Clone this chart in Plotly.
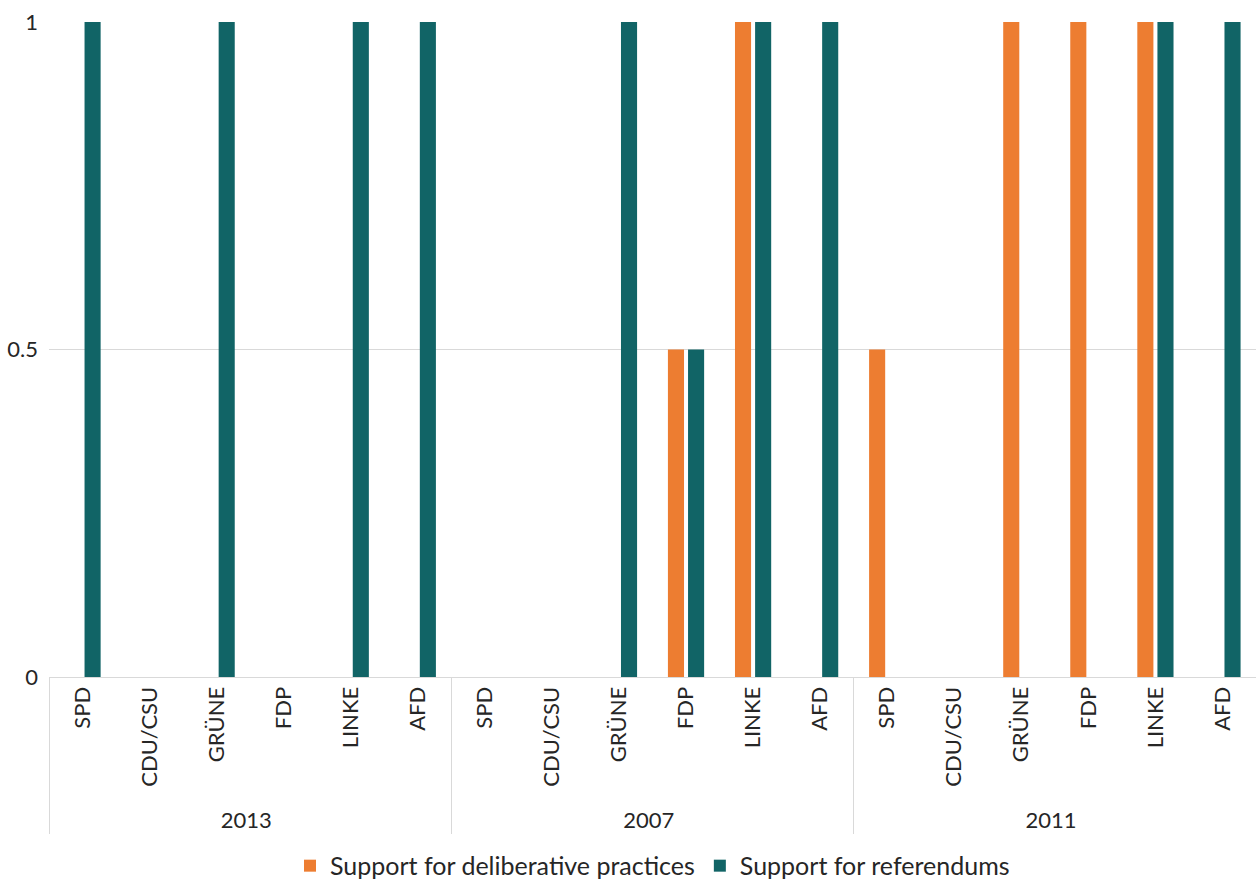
import plotly.graph_objects as go

years = ["2013"] * 6 + ["2007"] * 6 + ["2011"] * 6
parties = ["SPD", "CDU/CSU", "GRÜNE", "FDP", "LINKE", "AFD"] * 3
deliberative = [0, 0, 0, 0, 0, 0,
                0, 0, 0, 0.5, 1, 0,
                0.5, 0, 1, 1, 1, 0]
referendums = [1, 0, 1, 0, 1, 1,
               0, 0, 1, 0.5, 1, 1,
               0, 0, 0, 0, 1, 1]

ORANGE = "#ED7D31"
TEAL = "#116466"

fig = go.Figure()
fig.add_trace(go.Bar(x=[years, parties], y=deliberative, name="Support for deliberative practices",
                     marker=dict(color=ORANGE, line=dict(width=0))))
fig.add_trace(go.Bar(x=[years, parties], y=referendums, name="Support for referendums",
                     marker=dict(color=TEAL, line=dict(width=0))))

fig.update_layout(
    width=1256, height=880,
    margin=dict(l=49, r=0, t=22, b=203, autoexpand=False),
    paper_bgcolor="white", plot_bgcolor="white",
    font=dict(family="Lato", size=22, color="#262626"),
    barmode="group", bargap=0.4, bargroupgap=0.2,
    showlegend=True,
    legend=dict(orientation="h", x=0.5, xanchor="center", yref="container", y=0.016,
                yanchor="middle", font=dict(size=25), traceorder="normal"),
    xaxis=dict(type="multicategory", tickangle=-90, showline=True, linecolor="#d9d9d9",
               linewidth=1, showdividers=True, dividercolor="#d9d9d9", dividerwidth=1,
               ticks="", showgrid=False, tickfont=dict(size=22), automargin=False),
    yaxis=dict(range=[0, 1], tickvals=[0, 0.5, 1], ticktext=["0", "0.5", "1"],
               showgrid=True, gridcolor="#d9d9d9", gridwidth=1, zeroline=False,
               ticks="", showline=False, tickfont=dict(size=22), automargin=False,
               ticklabelstandoff=10),
)

fig.write_html("out.html")
